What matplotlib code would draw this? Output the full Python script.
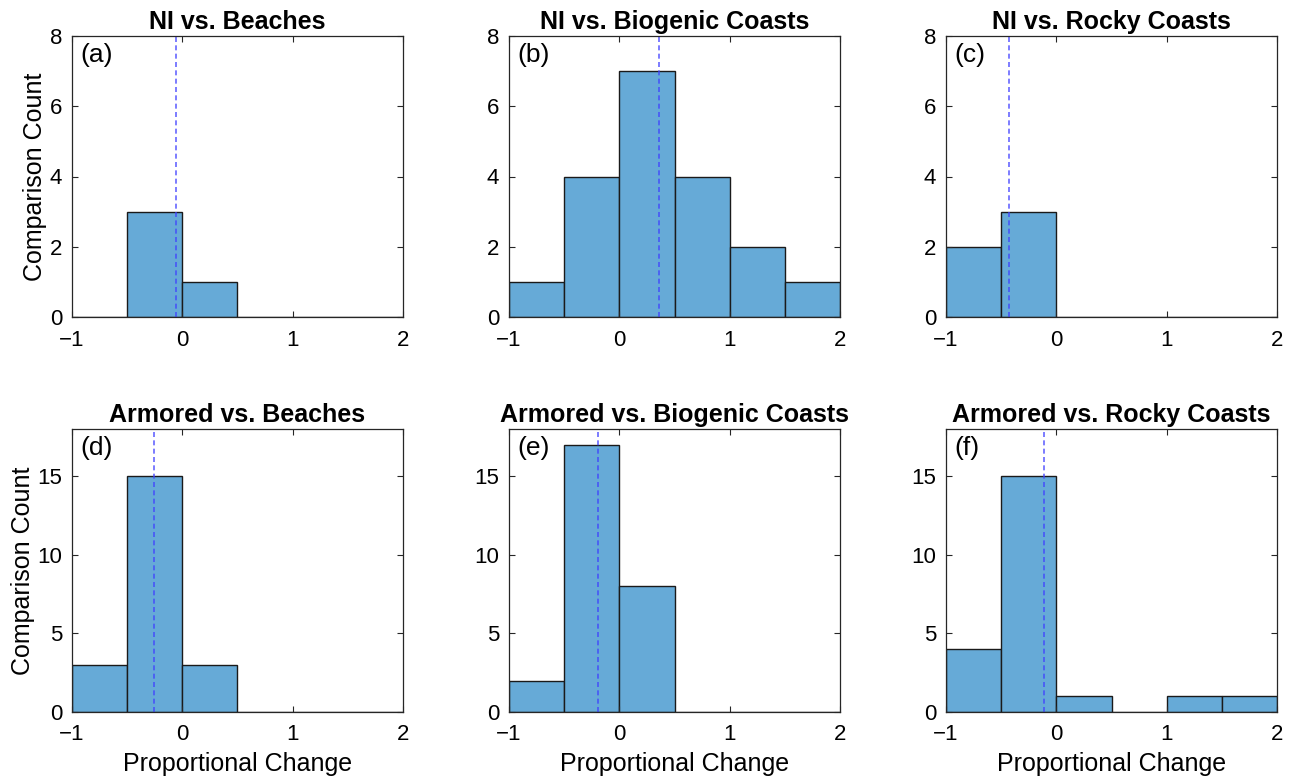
#!/usr/bin/env python3
"""Histograms of proportional change for NI / armored vs. natural coasts."""
import matplotlib.pyplot as plt

OUTPUT_FILE = 'out.png'

# Data (counts per bin, bin edges shared by all panels)
BIN_EDGES = [-1.0, -0.5, 0.0, 0.5, 1.0, 1.5, 2.0]
BIN_CENTERS = [-0.75, -0.25, 0.25, 0.75, 1.25, 1.75]

titles = ['NI vs. Beaches', 'NI vs. Biogenic Coasts', 'NI vs. Rocky Coasts',
          'Armored vs. Beaches', 'Armored vs. Biogenic Coasts',
          'Armored vs. Rocky Coasts']
panel_labels = ['(a)', '(b)', '(c)', '(d)', '(e)', '(f)']
counts = [
    [0, 3, 1, 0, 0, 0],
    [1, 4, 7, 4, 2, 1],
    [2, 3, 0, 0, 0, 0],
    [3, 15, 3, 0, 0, 0],
    [2, 17, 8, 0, 0, 0],
    [4, 15, 1, 0, 1, 1],
]
mean_lines = [-0.06, 0.36, -0.43, -0.26, -0.19, -0.115]
y_limits = [8, 8, 8, 18, 18, 18]
y_ticks_top = [0, 2, 4, 6, 8]
y_ticks_bottom = [0, 5, 10, 15]
x_ticks = [-1, 0, 1, 2]

# Style
COLOR_BAR = '#66aad7'
COLOR_EDGE = '#1a1a1a'
COLOR_MEAN = (0.25, 0.25, 1.0, 0.8)
COLOR_AXIS = '#262626'

plt.rcParams['font.family'] = ['Liberation Sans', 'DejaVu Sans']
plt.rcParams['axes.unicode_minus'] = True

fig = plt.figure(figsize=(12.91, 7.82), dpi=100)

lefts = [72 / 1291, 509 / 1291, 946 / 1291]
width = 331 / 1291
bottoms = [1 - 317 / 782, 1 - 712 / 782]
heights = [281 / 782, 283 / 782]

for i in range(6):
    row, col = divmod(i, 3)
    ax = fig.add_axes([lefts[col], bottoms[row], width, heights[row]])

    ax.hist(BIN_CENTERS, bins=BIN_EDGES, weights=counts[i],
            color=COLOR_BAR, edgecolor=COLOR_EDGE, linewidth=1.0)
    ax.axvline(mean_lines[i], color=COLOR_MEAN, linestyle=(0, (3, 2)),
               linewidth=1.2)

    ax.set_xlim(-1, 2)
    ax.set_ylim(0, y_limits[i])
    ax.set_xticks(x_ticks)
    ax.set_yticks(y_ticks_top if row == 0 else y_ticks_bottom)

    ax.set_title(titles[i], fontsize=18, fontweight='bold', pad=5)
    ax.text(0.025, 0.975, panel_labels[i], transform=ax.transAxes,
            ha='left', va='top', fontsize=19)

    if col == 0:
        ax.set_ylabel('Comparison Count', fontsize=18, labelpad=2)
    if row == 1:
        ax.set_xlabel('Proportional Change', fontsize=18, labelpad=5)

    ax.tick_params(direction='in', top=True, right=True, length=4,
                   width=0.8, color=COLOR_AXIS, labelsize=16)
    ax.tick_params(axis='x', pad=9)
    ax.tick_params(axis='y', pad=7)
    for spine in ax.spines.values():
        spine.set_color(COLOR_AXIS)
        spine.set_linewidth(0.9)

fig.savefig(OUTPUT_FILE, dpi=100, facecolor='white')
plt.close(fig)
